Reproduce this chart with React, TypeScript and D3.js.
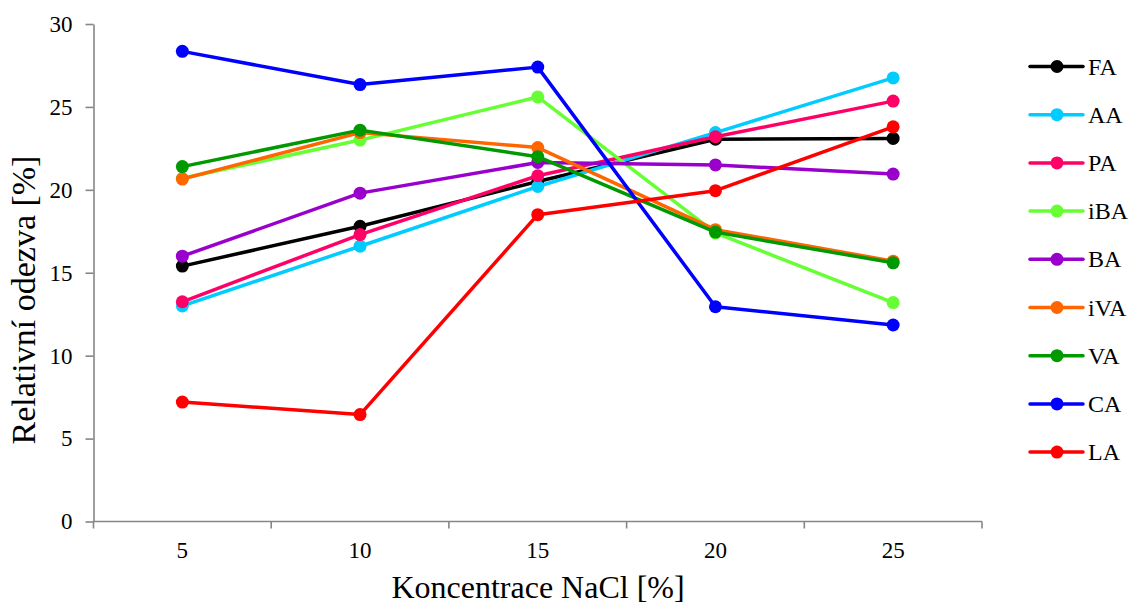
import React, { useEffect, useRef } from "react";
import * as d3 from "d3";

// koncentrace NaCl [%]
const categories = ["5", "10", "15", "20", "25"];
const yTicks = [0, 5, 10, 15, 20, 25, 30];

const seriesNames = ["FA", "AA", "PA", "iBA", "BA", "iVA", "VA", "CA", "LA"];
const seriesColors = ["#000000", "#00CCFF", "#FF0066", "#66FF33", "#9900CC", "#FF6600", "#009900", "#0000FF", "#FF0000"];

const FA = [15.4, 17.8, 20.5, 23.05, 23.1];
const AA = [13.0, 16.6, 20.2, 23.45, 26.75];
const PA = [13.25, 17.3, 20.85, 23.2, 25.35];
const iBA = [20.7, 23.0, 25.6, 17.4, 13.2];
const BA = [16.0, 19.8, 21.65, 21.5, 20.95];
const iVA = [20.65, 23.45, 22.55, 17.6, 15.7];
const VA = [21.4, 23.6, 22.0, 17.45, 15.6];
const CA = [28.35, 26.35, 27.4, 12.95, 11.85];
const LA = [7.2, 6.45, 18.5, 19.95, 23.8];

const allValues = [FA, AA, PA, iBA, BA, iVA, VA, CA, LA];

const W = 1132;
const H = 606;
const FONT = "'Liberation Serif', 'Times New Roman', serif";
const AXIS_COLOR = "#868686";

const App = () => {
  const ref = useRef<SVGSVGElement | null>(null);

  useEffect(() => {
    const svg = d3.select(ref.current);
    svg.selectAll("*").remove();

    const x = d3.scaleBand().domain(categories).range([93.5, 982]).padding(0);
    const y = d3.scaleLinear().domain([0, 30]).range([521.5, 24]);
    const cx = (c: string) => (x(c) as number) + x.bandwidth() / 2;

    // osa y
    const yAxis = svg
      .append("g")
      .attr("transform", `translate(${x.range()[0]},0)`)
      .call(d3.axisLeft(y).tickValues(yTicks).tickSize(8).tickSizeOuter(0).tickPadding(13));
    yAxis.attr("font-family", FONT).attr("font-size", 23);
    yAxis.selectAll("path,line").attr("stroke", AXIS_COLOR).attr("stroke-width", 1.6);
    yAxis
      .selectAll("text")
      .attr("font-family", FONT)
      .attr("font-size", 23)
      .attr("fill", "#000");

    // osa x
    const xAxis = svg.append("g").attr("transform", `translate(0,${y(0)})`);
    xAxis
      .append("line")
      .attr("x1", x.range()[0])
      .attr("x2", x.range()[1])
      .attr("stroke", AXIS_COLOR)
      .attr("stroke-width", 1.6);
    const edges = categories.map((c) => x(c) as number).concat([x.range()[1]]);
    xAxis
      .selectAll("line.tick")
      .data(edges)
      .enter()
      .append("line")
      .attr("class", "tick")
      .attr("x1", (d) => d)
      .attr("x2", (d) => d)
      .attr("y1", 0)
      .attr("y2", 7)
      .attr("stroke", AXIS_COLOR)
      .attr("stroke-width", 1.6);
    xAxis
      .selectAll("text")
      .data(categories)
      .enter()
      .append("text")
      .attr("x", (d) => cx(d))
      .attr("y", 36)
      .attr("text-anchor", "middle")
      .attr("font-family", FONT)
      .attr("font-size", 23)
      .text((d) => d);

    // titulky os
    svg
      .append("text")
      .attr("x", 538)
      .attr("y", 598)
      .attr("text-anchor", "middle")
      .attr("font-family", FONT)
      .attr("font-size", 32)
      .text("Koncentrace NaCl [%]");
    svg
      .append("text")
      .attr("transform", "translate(35,300) rotate(-90)")
      .attr("text-anchor", "middle")
      .attr("font-family", FONT)
      .attr("font-size", 34)
      .text("Relativní odezva [%]");

    // série
    const line = d3
      .line<number>()
      .x((_, i) => cx(categories[i]))
      .y((d) => y(d));

    allValues.forEach((vals, si) => {
      const g = svg.append("g");
      g.append("path")
        .datum(vals)
        .attr("d", line)
        .attr("fill", "none")
        .attr("stroke", seriesColors[si])
        .attr("stroke-width", 3.5)
        .attr("stroke-linejoin", "round");
      g.selectAll("circle")
        .data(vals)
        .enter()
        .append("circle")
        .attr("cx", (_, i) => cx(categories[i]))
        .attr("cy", (d) => y(d))
        .attr("r", 6.5)
        .attr("fill", seriesColors[si]);
    });

    // legenda
    const legend = svg.append("g").attr("transform", "translate(1030,66.5)");
    const rows = legend
      .selectAll("g")
      .data(seriesNames)
      .enter()
      .append("g")
      .attr("transform", (_, i) => `translate(0,${i * 48.2})`);
    rows
      .append("line")
      .attr("x1", 0)
      .attr("x2", 53)
      .attr("stroke", (_, i) => seriesColors[i])
      .attr("stroke-width", 3.5)
      .attr("stroke-linecap", "round");
    rows
      .append("circle")
      .attr("cx", 27)
      .attr("r", 6.5)
      .attr("fill", (_, i) => seriesColors[i]);
    rows
      .append("text")
      .attr("x", 58)
      .attr("y", 8)
      .attr("font-family", FONT)
      .attr("font-size", 24)
      .text((d) => d);
  }, []);

  return (
    <svg
      ref={ref}
      width={W}
      height={H}
      style={{ position: "absolute", left: 0, top: 0, background: "#fff" }}
    />
  );
};

export default App;
